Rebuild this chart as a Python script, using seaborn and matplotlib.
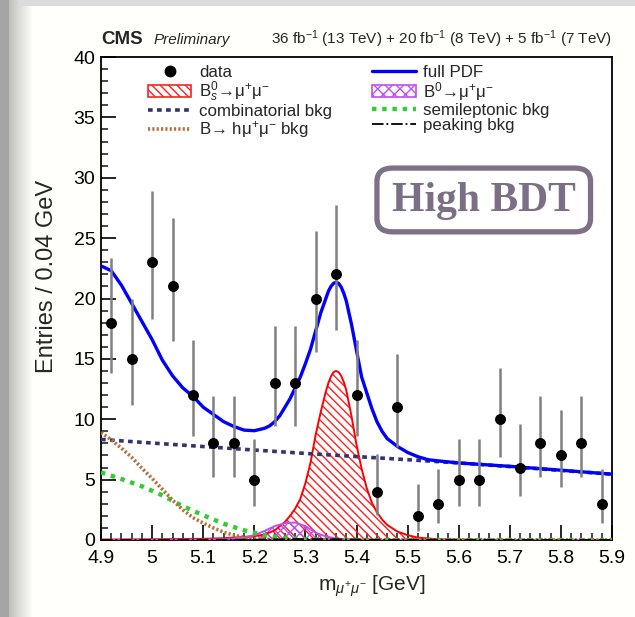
import numpy as np
import pandas as pd
import matplotlib
matplotlib.use("Agg")
import matplotlib.pyplot as plt
import seaborn as sns
from matplotlib.lines import Line2D
from matplotlib.patches import Patch, FancyBboxPatch

# ---------------- data ----------------
bin_centers = [4.92, 4.96, 5.00, 5.04, 5.08, 5.12, 5.16, 5.20, 5.24, 5.28, 5.32, 5.36, 5.40,
               5.44, 5.48, 5.52, 5.56, 5.60, 5.64, 5.68, 5.72, 5.76, 5.80, 5.84, 5.88]
entries = [18, 15, 23, 21, 12, 8, 8, 5, 13, 13, 20, 22, 12, 4, 11, 2, 3, 5, 5, 10, 6, 8, 7, 8, 3]
err_low = [13.81, 11.17, 18.27, 16.48, 8.585, 5.232, 5.232, 2.840, 9.441, 9.441, 15.58, 17.37, 8.585,
           2.086, 7.734, 0.708, 1.367, 2.840, 2.840, 6.891, 3.620, 5.232, 4.419, 5.232, 1.367]
err_high = [23.32, 19.96, 28.87, 26.66, 16.56, 11.95, 11.95, 8.382, 17.70, 17.70, 25.55, 27.76, 16.56,
            7.163, 15.42, 4.638, 5.918, 8.382, 8.382, 14.27, 9.584, 11.95, 10.77, 11.95, 5.918]

pdf_x = [4.90, 4.92, 4.94, 4.96, 4.98, 5.00, 5.02, 5.04, 5.06, 5.08, 5.10, 5.12, 5.14, 5.16, 5.18,
         5.20, 5.22, 5.23, 5.24, 5.25, 5.26, 5.27, 5.28, 5.29, 5.30, 5.31, 5.32, 5.33, 5.34, 5.345, 5.35,
         5.355, 5.36, 5.365, 5.37, 5.375, 5.38, 5.39, 5.40, 5.41, 5.42, 5.43, 5.44, 5.45, 5.46, 5.48, 5.50,
         5.52, 5.54, 5.56, 5.60, 5.70, 5.80, 5.90]
pdf_y = [22.7, 22.3, 21.1, 19.6, 18.1, 16.6, 14.9, 13.6, 12.6, 11.9, 11.0, 10.4, 9.8, 9.4, 9.1,
         9.05, 9.25, 9.45, 9.8, 10.3, 11.0, 11.7, 12.6, 13.5, 14.6, 15.8, 17.3, 18.8, 20.0, 20.6, 21.0,
         21.25, 21.35, 21.25, 20.95, 20.45, 19.8, 17.9, 15.7, 13.5, 12.2, 10.9, 9.8, 9.0, 8.4, 7.75, 7.25,
         6.9, 6.65, 6.55, 6.38, 6.1, 5.78, 5.45]

bs_x = [4.90, 5.00, 5.10, 5.14, 5.18, 5.20, 5.22, 5.24, 5.25, 5.26, 5.27, 5.28, 5.29, 5.30, 5.31,
        5.32, 5.33, 5.34, 5.345, 5.35, 5.355, 5.36, 5.365, 5.37, 5.375, 5.38, 5.39, 5.40, 5.41, 5.42,
        5.43, 5.44, 5.45, 5.46, 5.48, 5.50, 5.52, 5.56, 5.60, 5.70, 5.80, 5.90]
bs_y = [0.04, 0.06, 0.1, 0.15, 0.25, 0.32, 0.45, 0.8, 1.15, 1.5, 2.0, 2.6, 3.4, 4.7, 6.4,
        8.7, 10.6, 12.3, 13.0, 13.55, 13.9, 14.0, 13.9, 13.6, 13.1, 12.4, 10.3, 7.9, 5.9, 4.3,
        3.1, 2.3, 1.7, 1.25, 0.7, 0.4, 0.2, 0.06, 0.03, 0.01, 0.0, 0.0]

b0_x = [4.90, 5.10, 5.14, 5.18, 5.20, 5.22, 5.24, 5.26, 5.28, 5.30, 5.32, 5.34, 5.36, 5.40, 5.50, 5.90]
b0_y = [0.0, 0.02, 0.06, 0.2, 0.4, 0.75, 1.15, 1.4, 1.45, 1.15, 0.6, 0.3, 0.12, 0.03, 0.0, 0.0]

comb_x = [4.9, 5.0, 5.1, 5.2, 5.3, 5.4, 5.5, 5.6, 5.7, 5.8, 5.9]
comb_y = [8.33, 8.03, 7.74, 7.45, 7.17, 6.91, 6.65, 6.38, 6.08, 5.76, 5.45]

semi_x = [4.90, 4.94, 4.98, 5.02, 5.06, 5.10, 5.14, 5.18, 5.22, 5.26, 5.30, 5.34, 5.90]
semi_y = [5.6, 5.05, 4.45, 3.7, 2.8, 2.05, 1.35, 0.8, 0.4, 0.15, 0.05, 0.0, 0.0]

hmm_x = [4.90, 4.92, 4.94, 4.96, 4.98, 5.00, 5.02, 5.04, 5.06, 5.08, 5.10, 5.12, 5.14, 5.16,
         5.18, 5.20, 5.24, 5.90]
hmm_y = [8.9, 8.3, 7.6, 6.85, 5.95, 5.1, 4.2, 3.3, 2.5, 1.85, 1.4, 1.0, 0.65, 0.4,
         0.22, 0.1, 0.02, 0.0]

peak_x = [4.90, 5.20, 5.28, 5.36, 5.44, 5.90]
peak_y = [0.0, 0.02, 0.08, 0.06, 0.02, 0.0]

x_ticks = [4.9, 5.0, 5.1, 5.2, 5.3, 5.4, 5.5, 5.6, 5.7, 5.8, 5.9]
x_ticklabels = ["4.9", "5", "5.1", "5.2", "5.3", "5.4", "5.5", "5.6", "5.7", "5.8", "5.9"]
y_ticks = [0, 5, 10, 15, 20, 25, 30, 35, 40]

# ---------------- style ----------------
sns.set_style("ticks")
plt.rcParams['font.family'] = ['Liberation Sans', 'DejaVu Sans']
plt.rcParams['mathtext.fontset'] = 'custom'
plt.rcParams['mathtext.rm'] = 'Liberation Sans'
plt.rcParams['mathtext.it'] = 'Liberation Sans:italic'
plt.rcParams['mathtext.bf'] = 'Liberation Sans:bold'
plt.rcParams['hatch.linewidth'] = 1.0

fig = plt.figure(figsize=(6.35, 6.17), dpi=100)

# background: screenshot-like gray edge at left/top
bg = fig.add_axes([0, 0, 1, 1], zorder=-10)
H, W = 617, 635
img = np.ones((H, W, 3))
cols = np.arange(W)
shade = np.clip(cols / 32.0, 0, 1)
left = 0.66 + (1 - 0.66) * shade
left[:9] = 0.65
img[:, :, 0] = left[None, :]
img[:, :, 1] = left[None, :]
img[:, :, 2] = (left * 0.985)[None, :]
img[:6, 9:, :] = np.minimum(img[:6, 9:, :], 0.86)
bg.imshow(img, aspect='auto', extent=[0, 1, 0, 1])
bg.axis('off')

ax = fig.add_axes([101 / 635, 77 / 617, 511 / 635, 483 / 617])
ax.set_facecolor('white')

# components
ax.fill_between(bs_x, 0, bs_y, facecolor='none', edgecolor='#ff2020', hatch='\\\\\\\\', linewidth=0, zorder=2)
sns.lineplot(x=bs_x, y=bs_y, ax=ax, color='#ff0000', lw=1.4, zorder=3, sort=False)
ax.fill_between(b0_x, 0, b0_y, facecolor='none', edgecolor='#c050f0', hatch='xxx', linewidth=0, zorder=2)
sns.lineplot(x=b0_x, y=b0_y, ax=ax, color='#c050f0', lw=1.4, zorder=3, sort=False)

sns.lineplot(x=comb_x, y=comb_y, ax=ax, color='#33336e', lw=2.6, linestyle=(0, (1.3, 1.2)), zorder=4, sort=False)
sns.lineplot(x=semi_x, y=semi_y, ax=ax, color='#33cc33', lw=3.2, linestyle=(0, (1.0, 1.3)), zorder=4, sort=False)
sns.lineplot(x=hmm_x, y=hmm_y, ax=ax, color='#b8703a', lw=2.6, linestyle=(0, (0.6, 0.6)), zorder=4, sort=False)
sns.lineplot(x=peak_x, y=peak_y, ax=ax, color='black', lw=1.3, linestyle='-.', zorder=4, sort=False)
sns.lineplot(x=pdf_x, y=pdf_y, ax=ax, color='#0000ff', lw=2.4, zorder=5, sort=False)

# data with asymmetric Poisson errors
df = pd.DataFrame({'x': bin_centers, 'y': entries, 'lo': err_low, 'hi': err_high})
ax.vlines(df['x'], df['lo'], df['hi'], color='#808080', lw=1.8, zorder=6)
sns.scatterplot(data=df, x='x', y='y', ax=ax, color='black', s=62, edgecolor='black', linewidth=0, zorder=7)

ax.set_xlim(4.9, 5.9)
ax.set_ylim(0, 40)
ax.set_xticks(x_ticks)
ax.set_xticklabels(x_ticklabels)
ax.set_yticks(y_ticks)
ax.xaxis.set_minor_locator(matplotlib.ticker.MultipleLocator(0.02))
ax.yaxis.set_minor_locator(matplotlib.ticker.MultipleLocator(1))
ax.tick_params(axis='both', which='major', direction='in', length=10.5, width=1.2, labelsize=14,
               colors='black', top=False, right=False)
ax.tick_params(axis='both', which='minor', direction='in', length=5, width=1.2, top=False, right=False)
ax.tick_params(axis='x', which='major', pad=7)
ax.tick_params(axis='y', which='major', pad=4)
for s in ax.spines.values():
    s.set_linewidth(1.3)
    s.set_color('black')
    s.set_visible(True)

ax.set_xlabel('m$_{\\mu^{+}\\mu^{-}}$ [GeV]', fontsize=15)
ax.xaxis.set_label_coords(0.53, -0.07)
ax.set_ylabel('Entries / 0.04 GeV', fontsize=17)
ax.yaxis.set_label_coords(-0.085, 0.545)

# legend
handles = [
    Line2D([], [], color='black', marker='o', markersize=7.5, linestyle='none'),
    Patch(facecolor='white', edgecolor='#ff2020', hatch='\\\\\\\\', lw=1.2),
    Line2D([], [], color='#33336e', lw=2.6, linestyle=(0, (1.3, 1.2))),
    Line2D([], [], color='#b8703a', lw=2.6, linestyle=(0, (0.6, 0.6))),
    Line2D([], [], color='#0000ff', lw=2.4),
    Patch(facecolor='white', edgecolor='#c050f0', hatch='xxx', lw=1.2),
    Line2D([], [], color='#33cc33', lw=3.2, linestyle=(0, (1.0, 1.3))),
    Line2D([], [], color='black', lw=1.3, linestyle='-.'),
]
labels = ['data', 'B$_{s}^{0}$→μ$^{+}$μ$^{-}$', 'combinatorial bkg',
          'B→ hμ$^{+}$μ$^{-}$ bkg', 'full PDF', 'B$^{0}$→μ$^{+}$μ$^{-}$',
          'semileptonic bkg', 'peaking bkg']
leg = ax.legend(handles, labels, ncol=2, loc='upper left', bbox_to_anchor=(0.072, 1.005),
                frameon=False, fontsize=12.2, handlelength=2.55, handleheight=0.75,
                labelspacing=0.0, columnspacing=2.4, handletextpad=0.45, borderaxespad=0.2)
leg.set_zorder(10)

# High BDT box
box = FancyBboxPatch((0.54, 0.638), 0.418, 0.132, boxstyle='round,pad=0.0,rounding_size=0.03',
                     transform=ax.transAxes, facecolor='white', edgecolor='#7d7087', lw=3.8, zorder=8,
                     mutation_aspect=483 / 511)
ax.add_patch(box)
ax.text(0.749, 0.702, 'High BDT', transform=ax.transAxes, ha='center', va='center',
        fontsize=30, color='#7b6f86', family=['Liberation Serif', 'DejaVu Serif'], weight='bold', zorder=9)

# header
fig.text(101 / 635, 1 - 44 / 617, 'CMS', fontsize=13.5, weight='bold', ha='left', va='baseline')
fig.text(154 / 635, 1 - 44 / 617, 'Preliminary', fontsize=11, style='italic', ha='left', va='baseline')
fig.text(612 / 635, 1 - 44 / 617,
         '36 fb$^{-1}$ (13 TeV) + 20 fb$^{-1}$ (8 TeV) + 5 fb$^{-1}$ (7 TeV)',
         fontsize=11, ha='right', va='baseline')

fig.savefig('out.png', dpi=100)
